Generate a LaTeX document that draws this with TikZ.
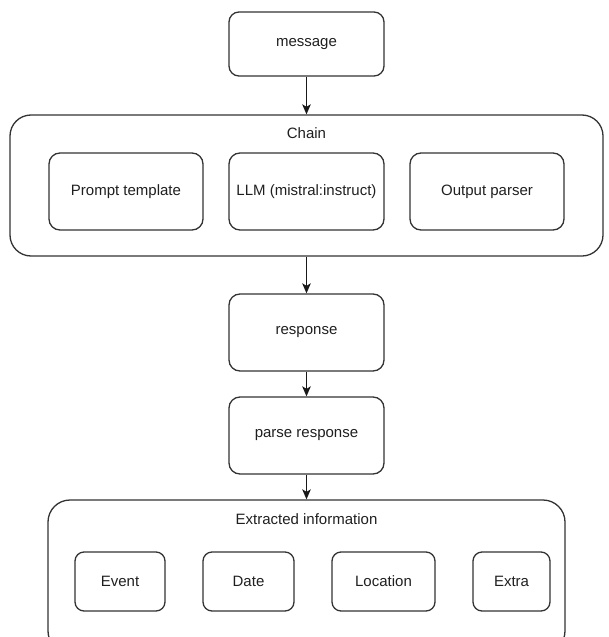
\documentclass[tikz,border=0pt]{standalone}
\usepackage{fontspec}
\setmainfont{Liberation Sans}
\usetikzlibrary{arrows.meta}
\begin{document}
\begin{tikzpicture}[x=1pt,y=-1pt,
  every node/.style={font=\fontsize{15}{18}\selectfont, text=black!88},
  box/.style={draw=black!80, line width=1.3pt, rounded corners=#1,
    inner sep=0pt, align=center},
  box/.default=11pt,
  caption/.style={inner sep=0pt},
  flow/.style={draw=black!90, line width=1.3pt,
    -{Stealth[length=10pt,width=8.5pt,inset=2.5pt]}}
]
\useasboundingbox (0,0) rectangle (609,637);
\clip (0,0) rectangle (609,637);

% top input
\node[box=10pt, minimum width=155pt, minimum height=64pt] (message) at (306.5,44) {message};

% chain container and its stages
\node[box=21pt, minimum width=593pt, minimum height=141pt] (chain) at (306.5,185.5) {};
\node[caption] (chainlbl) at (306.5,133) {Chain};
\node[box=11pt, minimum width=154pt, minimum height=77pt] (prompt) at (126,191.5) {Prompt template};
\node[box=11pt, minimum width=155pt, minimum height=77pt] (llm) at (306.5,191.5) {LLM (mistral:instruct)};
\node[box=11pt, minimum width=154pt, minimum height=77pt] (parser) at (487,191.5) {Output parser};

% intermediate steps
\node[box=11pt, minimum width=155pt, minimum height=77pt] (response) at (306.5,332.5) {response};
\node[box=11pt, minimum width=155pt, minimum height=77pt] (parse) at (306.5,435.5) {parse response};

% extracted fields
\node[box=22pt, minimum width=517pt, minimum height=153pt] (extracted) at (306.5,576.5) {};
\node[caption] (extractedlbl) at (306.5,519) {Extracted information};
\node[box=9pt, minimum width=90pt, minimum height=59pt] (event) at (120,581.5) {Event};
\node[box=9pt, minimum width=91pt, minimum height=59pt] (date) at (248.5,581.5) {Date};
\node[box=9pt, minimum width=103pt, minimum height=59pt] (location) at (383.5,581.5) {Location};
\node[box=9pt, minimum width=77pt, minimum height=59pt] (extra) at (511.5,581.5) {Extra};

% connectors
\draw[flow] (message.south) -- (chain.north);
\draw[flow] (chain.south) -- (response.north);
\draw[flow] (response.south) -- (parse.north);
\draw[flow] (parse.south) -- (extracted.north);
\end{tikzpicture}
\end{document}
